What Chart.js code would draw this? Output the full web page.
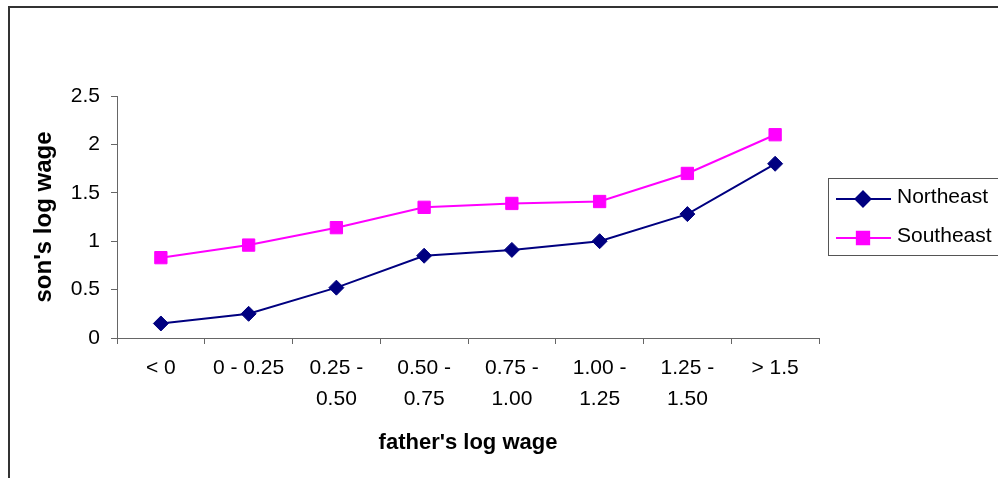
<!DOCTYPE html>
<html>
<head>
<meta charset="utf-8">
<script src="https://cdn.jsdelivr.net/npm/chart.js@4.4.1/dist/chart.umd.min.js"></script>
<style>
  html, body { margin: 0; padding: 0; background: #fff; }
  #wrap { width: 998px; height: 478px; }
</style>
</head>
<body>
<div id="wrap"><canvas id="chart-area" width="998" height="478"></canvas></div>
<script>
// father's log wage brackets
var categories = [
    "< 0",
    "0 - 0.25",
    ["0.25 -", "0.50"],
    ["0.50 -", "0.75"],
    ["0.75 -", "1.00"],
    ["1.00 -", "1.25"],
    ["1.25 -", "1.50"],
    "> 1.5"
];

// son's log wage by region
var northeast = [0.15, 0.25, 0.52, 0.85, 0.91, 1.00, 1.28, 1.80];
var southeast = [0.83, 0.96, 1.14, 1.35, 1.39, 1.41, 1.70, 2.10];

var yTicks = [0, 0.5, 1, 1.5, 2, 2.5];

var FONT = "'Liberation Sans', Arial, sans-serif";

// frame lines on the left and top edge
var framePlugin = {
    id: 'frame',
    beforeDraw: function(chart) {
        var ctx = chart.ctx;
        ctx.save();
        ctx.strokeStyle = '#333333';
        ctx.lineWidth = 2;
        ctx.beginPath();
        ctx.moveTo(9, 478);
        ctx.lineTo(9, 7);
        ctx.lineTo(998, 7);
        ctx.stroke();
        ctx.restore();
    }
};

// boxed legend with line + marker samples
var boxLegend = {
    id: 'boxLegend',
    afterDraw: function(chart) {
        var ctx = chart.ctx;
        var x0 = 828, y0 = 178, w = 180, h = 77;
        ctx.save();
        ctx.fillStyle = '#ffffff';
        ctx.fillRect(x0, y0, w, h);
        ctx.strokeStyle = '#555555';
        ctx.lineWidth = 1;
        ctx.strokeRect(x0 + 0.5, y0 + 0.5, w, h);
        chart.data.datasets.forEach(function(ds, i) {
            var cy = y0 + 21 + i * 39;
            ctx.strokeStyle = ds.borderColor;
            ctx.lineWidth = 2;
            ctx.beginPath();
            ctx.moveTo(836, cy);
            ctx.lineTo(891, cy);
            ctx.stroke();
            Chart.helpers.drawPoint(ctx, {
                pointStyle: ds.pointStyle,
                radius: ds.pointRadius,
                borderWidth: 1
            }, 863, cy);
            ctx.fillStyle = ds.pointBackgroundColor;
            ctx.fill();
            ctx.fillStyle = '#000000';
            ctx.font = '21px ' + FONT;
            ctx.textBaseline = 'middle';
            ctx.textAlign = 'left';
            ctx.fillText(ds.label, 897, cy - 2);
        });
        ctx.restore();
    }
};

var config = {
    type: 'line',
    data: {
        labels: categories,
        datasets: [
            {
                label: "Northeast",
                data: northeast,
                borderColor: "#000080",
                backgroundColor: "#000080",
                pointBackgroundColor: "#000080",
                pointBorderColor: "#000080",
                borderWidth: 2,
                pointStyle: 'rectRot',
                pointRadius: 7.5,
                pointBorderWidth: 1,
                tension: 0
            },
            {
                label: "Southeast",
                data: southeast,
                borderColor: "#FF00FF",
                backgroundColor: "#FF00FF",
                pointBackgroundColor: "#FF00FF",
                pointBorderColor: "#FF00FF",
                borderWidth: 2,
                pointStyle: 'rect',
                pointRadius: 8.7,
                pointBorderWidth: 1,
                tension: 0
            }
        ]
    },
    options: {
        responsive: false,
        animation: false,
        layout: { padding: { top: 96, right: 179, left: 0, bottom: 0 } },
        plugins: {
            legend: { display: false },
            tooltip: { enabled: false }
        },
        scales: {
            x: {
                offset: true,
                afterFit: function(scale) { scale.height = 140; },
                grid: {
                    display: true,
                    drawOnChartArea: false,
                    drawTicks: true,
                    tickLength: 6,
                    color: '#666666',
                    offset: true
                },
                border: { color: '#666666', width: 1 },
                ticks: {
                    color: '#000000',
                    padding: 9,
                    maxRotation: 0,
                    autoSkip: false,
                    font: { family: FONT, size: 21, lineHeight: 1.48 }
                },
                title: {
                    display: true,
                    text: "father's log wage",
                    color: '#000000',
                    padding: { top: 0, bottom: 22 },
                    font: { family: FONT, size: 22, weight: 'bold' }
                }
            },
            y: {
                min: 0,
                max: 2.5,
                afterFit: function(scale) { scale.width = 117; },
                afterBuildTicks: function(scale) {
                    scale.ticks = yTicks.map(function(v) { return { value: v }; });
                },
                grid: {
                    display: true,
                    drawOnChartArea: false,
                    drawTicks: true,
                    tickLength: 6,
                    color: '#666666'
                },
                border: { color: '#666666', width: 1 },
                ticks: {
                    color: '#000000',
                    padding: 11,
                    font: { family: FONT, size: 21 },
                    callback: function(v) { return String(v); }
                },
                title: {
                    display: true,
                    text: "son's log wage",
                    color: '#000000',
                    padding: { top: 30, bottom: 0 },
                    font: { family: FONT, size: 24, weight: 'bold' }
                }
            }
        }
    },
    plugins: [framePlugin, boxLegend]
};

window.onload = function() {
    var ctx = document.getElementById("chart-area").getContext("2d");
    window.myLine = new Chart(ctx, config);
};
</script>
</body>
</html>
